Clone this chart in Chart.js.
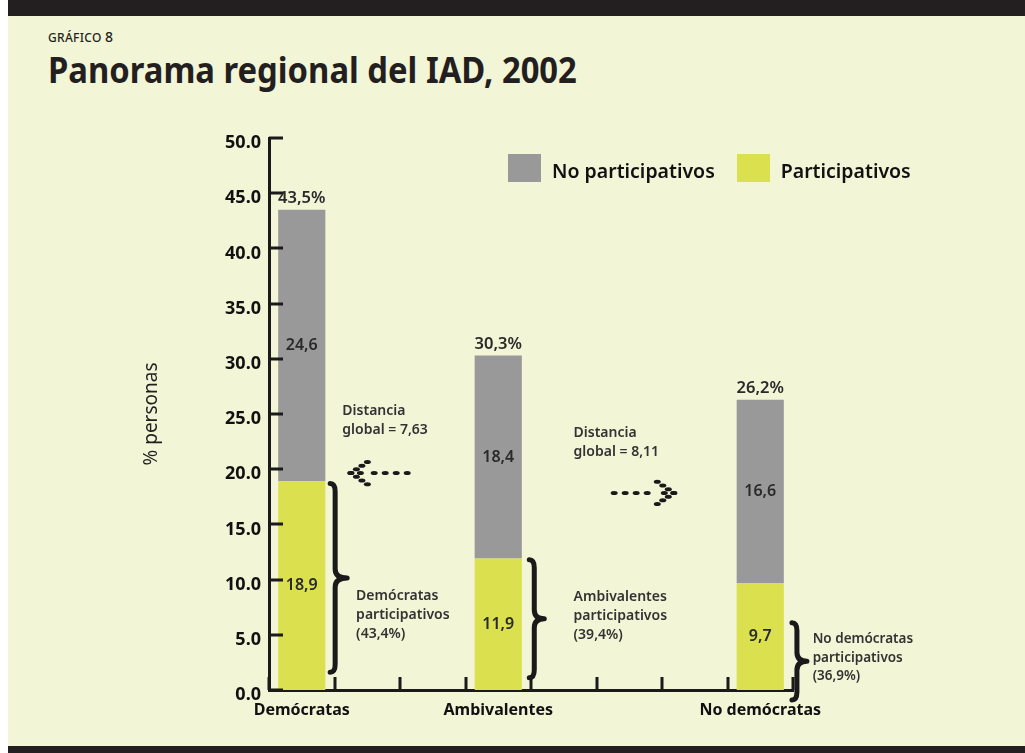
<!DOCTYPE html>
<html lang="es">
<head>
<meta charset="utf-8">
<title>Panorama regional del IAD, 2002</title>
<script src="https://cdn.jsdelivr.net/npm/chart.js@4.4.1/dist/chart.umd.min.js"></script>
<style>
  html, body { margin: 0; padding: 0; background: #fff; }
  #page { position: relative; width: 1025px; height: 753px; overflow: hidden; }
  #paper { position: absolute; left: 8px; top: 0; width: 1017px; height: 753px; background: #f2f5d6; }
  .franja { position: absolute; left: 8px; width: 1017px; background: #231f20; }
  #kicker { position: absolute; left: 48px; top: 31px; font: 500 12px/12px 'Noto Sans'; letter-spacing: .3px; color: #231f20; }
  #kicker b { font-weight: 500; font-size: 14px; }
  #titulo { position: absolute; left: 48px; top: 52px; font: bold 36px/36px 'Noto Sans'; color: #231f20; white-space: nowrap; transform-origin: 0 0; }
  #grafico { position: absolute; left: 0; top: 0; }
  #leyenda { position: absolute; left: 508px; top: 152px; display: flex; align-items: center; font: 600 19.5px 'Noto Sans'; color: #111; }
  #leyenda .item { display: flex; align-items: center; margin-right: 22px; }
  #leyenda .item span:last-child { padding-top: 5px; }
  #leyenda .caja { width: 33px; height: 28px; margin-right: 11px; }
</style>
</head>
<body>
<div id="page">
  <div id="paper"></div>
  <div class="franja" style="top:0;height:16px"></div>
  <div class="franja" style="top:746px;height:7px"></div>
  <div id="kicker">GRÁFICO <b>8</b></div>
  <div id="titulo">Panorama regional del IAD, 2002</div>
  <canvas id="grafico" width="1025" height="753"></canvas>
  <div id="leyenda"></div>
</div>
<script>
// datos
const categorias = ['Demócratas', 'Ambivalentes', 'No demócratas'];
const noParticipativos = [24.6, 18.4, 16.6];
const participativos = [18.9, 11.9, 9.7];
const totales = [43.5, 30.3, 26.2];
const pctParticipativos = [43.4, 39.4, 36.9];
const distancias = [7.63, 8.11];
const yTicks = [0, 5, 10, 15, 20, 25, 30, 35, 40, 45, 50];

const GRIS = '#999999';
const AMARILLO = '#dbe04f';
const TINTA = '#1a1a1a';
const TEXTO = '#333333';

// titulo algo condensado, como en el original
const titulo = document.getElementById('titulo');
titulo.style.transform = 'scaleX(' + (529 / titulo.offsetWidth) + ')';

// el eje x tiene 8 huecos; cada categoria ocupa uno
const nSlots = 8;
const slots = [0, 3, 7];

const etiquetas = new Array(nSlots).fill('');
const serieNo = new Array(nSlots).fill(null);
const serieSi = new Array(nSlots).fill(null);
for (var i = 0; i < categorias.length; i++) {
  etiquetas[slots[i]] = categorias[i];
  serieNo[slots[i]] = noParticipativos[i];
  serieSi[slots[i]] = participativos[i];
}

function fmt(v, d) {
  return v.toFixed(d).replace('.', ',');
}

// anotaciones en unidades (hueco, valor)
const textos = [
  {u: 1.12, v: 25.3, lines: ['Distancia', 'global = ' + fmt(distancias[0], 2)]},
  {u: 4.65, v: 23.3, lines: ['Distancia', 'global = ' + fmt(distancias[1], 2)]},
  {u: 1.33, v: 8.5, lines: [categorias[0], 'participativos', '(' + fmt(pctParticipativos[0], 1) + '%)']},
  {u: 4.65, v: 8.4, lines: [categorias[1], 'participativos', '(' + fmt(pctParticipativos[1], 1) + '%)']},
  {u: 8.3, v: 4.6, lines: [categorias[2], 'participativos', '(' + fmt(pctParticipativos[2], 1) + '%)'], size: 13.5}
];
const llaves = [
  {u: 1.01, top: 18.7, bot: 1.6, w: 12},
  {u: 4.05, top: 11.8, bot: 1.1, w: 10},
  {u: 8.06, top: 6.1, bot: -0.9, w: 10}
];
const flechas = [
  {from: 2.11, to: 1.25, v: 19.65},
  {from: 5.27, to: 6.18, v: 17.85}
];

function llave(ctx, x, top, bot, w) {
  const mid = (top + bot) / 2;
  ctx.beginPath();
  ctx.moveTo(x - 5, top);
  ctx.quadraticCurveTo(x, top, x, top + 8);
  ctx.lineTo(x, mid - 9);
  ctx.quadraticCurveTo(x, mid, x + w, mid);
  ctx.quadraticCurveTo(x, mid, x, mid + 9);
  ctx.lineTo(x, bot - 8);
  ctx.quadraticCurveTo(x, bot, x - 5, bot);
  ctx.stroke();
}

function punto(ctx, x, y) {
  ctx.beginPath();
  ctx.ellipse(x, y, 3.5, 2, 0, 0, Math.PI * 2);
  ctx.fill();
}

function flecha(ctx, x0, x1, y) {
  const dir = x1 > x0 ? 1 : -1;
  // cuerpo punteado
  const cola = x1 - dir * 22;
  for (var x = x0; dir * (cola - x) >= 0; x += dir * 11) punto(ctx, x, y);
  // punta
  for (var k = 0; k < 4; k++) {
    punto(ctx, x1 - dir * k * 5.5, y - k * 3.7);
    punto(ctx, x1 - dir * k * 5.5, y + k * 3.7);
  }
  punto(ctx, x1 - dir * 9.5, y);
}

const anotaciones = {
  id: 'anotaciones',
  afterDatasetsDraw(chart) {
    const ctx = chart.ctx;
    const x = chart.scales.x, y = chart.scales.y;
    const px = u => x.getPixelForValue(u - 0.5);
    ctx.save();

    // marcas hacia dentro en ambos ejes
    ctx.strokeStyle = TINTA;
    ctx.lineWidth = 3;
    ctx.beginPath();
    for (var i = 0; i <= nSlots; i++) {
      const xx = Math.round(px(i));
      ctx.moveTo(xx, y.bottom);
      ctx.lineTo(xx, y.bottom - 13);
    }
    y.ticks.forEach(t => {
      const yy = Math.round(y.getPixelForValue(t.value));
      ctx.moveTo(x.left, yy);
      ctx.lineTo(x.left + 14, yy);
    });
    ctx.stroke();

    // valores dentro de las barras y totales
    const metaSi = chart.getDatasetMeta(0), metaNo = chart.getDatasetMeta(1);
    ctx.textAlign = 'center';
    ctx.textBaseline = 'middle';
    ctx.fillStyle = '#2a2a2a';
    slots.forEach((s, k) => {
      const a = metaSi.data[s], b = metaNo.data[s];
      ctx.font = '600 16px "Noto Sans"';
      ctx.fillText(fmt(participativos[k], 1), a.x, (a.y + a.base) / 2);
      ctx.fillText(fmt(noParticipativos[k], 1), b.x, (b.y + b.base) / 2);
      ctx.font = '600 16.5px "Noto Sans"';
      ctx.fillText(fmt(totales[k], 1) + '%', b.x, b.y - 11);
    });

    // llaves
    ctx.lineWidth = 5;
    ctx.lineCap = 'round';
    ctx.lineJoin = 'round';
    llaves.forEach(l => llave(ctx, px(l.u), y.getPixelForValue(l.top), y.getPixelForValue(l.bot), l.w));

    // flechas punteadas
    ctx.fillStyle = TINTA;
    flechas.forEach(f => flecha(ctx, px(f.from), px(f.to), y.getPixelForValue(f.v)));

    // textos
    ctx.textAlign = 'left';
    ctx.fillStyle = TEXTO;
    textos.forEach(t => {
      const size = t.size || 14;
      ctx.font = '600 ' + size + 'px "Noto Sans"';
      const y0 = y.getPixelForValue(t.v);
      t.lines.forEach((ln, j) => ctx.fillText(ln, px(t.u), y0 + j * (size + 5)));
    });
    ctx.restore();
  }
};

const leyendaHtml = {
  id: 'leyendaHtml',
  afterUpdate(chart) {
    const box = document.getElementById('leyenda');
    box.innerHTML = '';
    const items = chart.options.plugins.legend.labels.generateLabels(chart).reverse();
    items.forEach(item => {
      const div = document.createElement('div');
      div.className = 'item';
      const caja = document.createElement('span');
      caja.className = 'caja';
      caja.style.background = item.fillStyle;
      const txt = document.createElement('span');
      txt.textContent = item.text;
      div.appendChild(caja);
      div.appendChild(txt);
      box.appendChild(div);
    });
  }
};

new Chart(document.getElementById('grafico'), {
  type: 'bar',
  data: {
    labels: etiquetas,
    datasets: [
      {label: 'Participativos', data: serieSi, backgroundColor: AMARILLO},
      {label: 'No participativos', data: serieNo, backgroundColor: GRIS}
    ]
  },
  options: {
    responsive: false,
    animation: false,
    layout: {padding: {left: 140, right: 232, top: 138, bottom: 33}},
    datasets: {bar: {barPercentage: 0.72, categoryPercentage: 1}},
    plugins: {
      legend: {display: false},
      tooltip: {enabled: false}
    },
    scales: {
      x: {
        stacked: true,
        grid: {display: false, drawTicks: false},
        border: {display: true, color: TINTA, width: 3},
        ticks: {
          autoSkip: false, maxRotation: 0, minRotation: 0, padding: 11,
          color: '#111', font: {family: 'Noto Sans', size: 16, weight: 'bold'}
        },
        afterFit: s => { s.height = 30; }
      },
      y: {
        stacked: true,
        min: 0,
        max: 50,
        grid: {display: false, drawTicks: false},
        border: {display: true, color: TINTA, width: 3},
        afterBuildTicks: s => { s.ticks = yTicks.map(v => ({value: v})); },
        ticks: {
          padding: 8, labelOffset: 5,
          color: '#111', font: {family: 'Noto Sans', size: 18, weight: 'bold'},
          callback: v => v.toFixed(1)
        },
        title: {
          display: true, text: '% personas', color: '#231f20', padding: 0,
          font: {family: 'Noto Sans', size: 19, weight: 'normal'}
        },
        afterFit: s => { s.width = 129; }
      }
    }
  },
  plugins: [anotaciones, leyendaHtml]
});
</script>
</body>
</html>
